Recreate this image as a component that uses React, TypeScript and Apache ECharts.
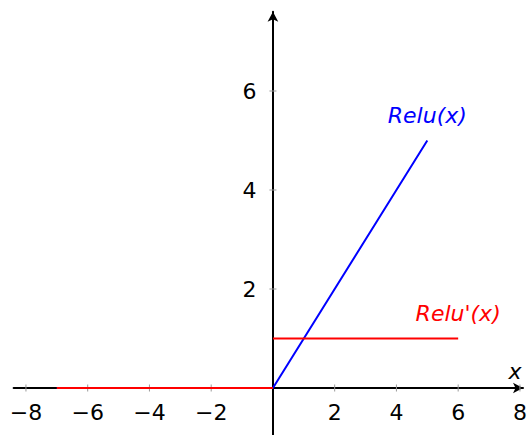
import React, { useEffect, useRef } from "react";
import * as echarts from "echarts";

// ReLU and its derivative
const reluPts: number[][] = [[-7, 0], [0, 0], [5, 5]];
const dReluLow: number[][] = [[-7, 0], [0, 0]];
const dReluHigh: number[][] = [[0, 1], [6, 1]];

const xTicks = [-8, -6, -4, -2, 2, 4, 6, 8];
const yTicks = [2, 4, 6];

const reluLabelAt = [5, 5];
const dReluLabelAt = [6, 1];

const FONT = "DejaVu Sans";
const minus = (v: number) => String(v).replace("-", "\u2212");

export default function App() {
  const ref = useRef<HTMLDivElement>(null);

  useEffect(() => {
    if (!ref.current) return;
    const chart = echarts.init(ref.current, undefined, { renderer: "svg" });
    const tickColor = "#999999";
    const tickFont = { fontFamily: FONT, fontSize: 22, color: "#000" };

    chart.setOption({
      animation: false,
      backgroundColor: "#ffffff",
      grid: {
        left: 13.6,
        top: 11.8,
        width: 509.4,
        height: 425.7,
        containLabel: false,
        outerBoundsMode: "none",
      },
      xAxis: {
        type: "value",
        min: -8.4,
        max: 8.1,
        splitLine: { show: false },
        axisLine: {
          onZero: true,
          lineStyle: { color: "#000", width: 2 },
          symbol: ["none", "arrow"],
          symbolSize: [8, 10],
        },
        axisTick: { show: false },
        axisLabel: { show: false },
        name: "x",
        nameLocation: "end",
        nameGap: -8,
        nameTextStyle: {
          fontFamily: FONT,
          fontStyle: "italic",
          fontSize: 22,
          color: "#000",
          align: "center",
          verticalAlign: "bottom",
          padding: [0, 0, 6, 0],
        },
      },
      yAxis: {
        type: "value",
        min: -1,
        max: 7.6,
        splitLine: { show: false },
        axisLine: {
          onZero: true,
          lineStyle: { color: "#000", width: 2 },
          symbol: ["none", "arrow"],
          symbolSize: [8, 10],
        },
        axisTick: { show: false },
        axisLabel: { show: false },
      },
      series: [
        // tick marks crossing the axes, with their labels
        {
          type: "scatter",
          symbol: "rect",
          symbolSize: [1, 7],
          itemStyle: { color: tickColor, opacity: 1 },
          silent: true,
          z: 1,
          data: xTicks.map((t) => [t, 0]),
          label: {
            show: true,
            position: "bottom",
            distance: 10,
            formatter: (p: any) => minus(p.value[0]),
            ...tickFont,
          },
        },
        {
          type: "scatter",
          symbol: "rect",
          symbolSize: [7, 1],
          itemStyle: { color: tickColor, opacity: 1 },
          silent: true,
          z: 1,
          data: yTicks.map((t) => [0, t]),
          label: {
            show: true,
            position: "left",
            distance: 13,
            formatter: (p: any) => minus(p.value[1]),
            ...tickFont,
          },
        },
        {
          type: "line",
          data: reluPts,
          showSymbol: false,
          lineStyle: { color: "#0000ff", width: 2 },
          z: 3,
        },
        {
          type: "line",
          data: dReluLow,
          showSymbol: false,
          lineStyle: { color: "#ff0000", width: 2 },
          z: 4,
        },
        {
          type: "line",
          data: dReluHigh,
          showSymbol: false,
          lineStyle: { color: "#ff0000", width: 2 },
          z: 4,
        },
        {
          type: "scatter",
          symbolSize: 0,
          silent: true,
          itemStyle: { opacity: 1 },
          data: [reluLabelAt],
          label: {
            show: true,
            position: "top",
            distance: 14,
            formatter: "Relu(x)",
            fontFamily: FONT,
            fontStyle: "italic",
            fontSize: 22,
            color: "#0000ff",
          },
        },
        {
          type: "scatter",
          symbolSize: 0,
          silent: true,
          itemStyle: { opacity: 1 },
          data: [dReluLabelAt],
          label: {
            show: true,
            position: "top",
            distance: 14,
            formatter: "Relu'(x)",
            fontFamily: FONT,
            fontStyle: "italic",
            fontSize: 22,
            color: "#ff0000",
          },
        },
      ],
    });

    return () => chart.dispose();
  }, []);

  return (
    <div
      ref={ref}
      style={{ position: "fixed", left: 0, top: 0, width: 528, height: 435 }}
    />
  );
}
